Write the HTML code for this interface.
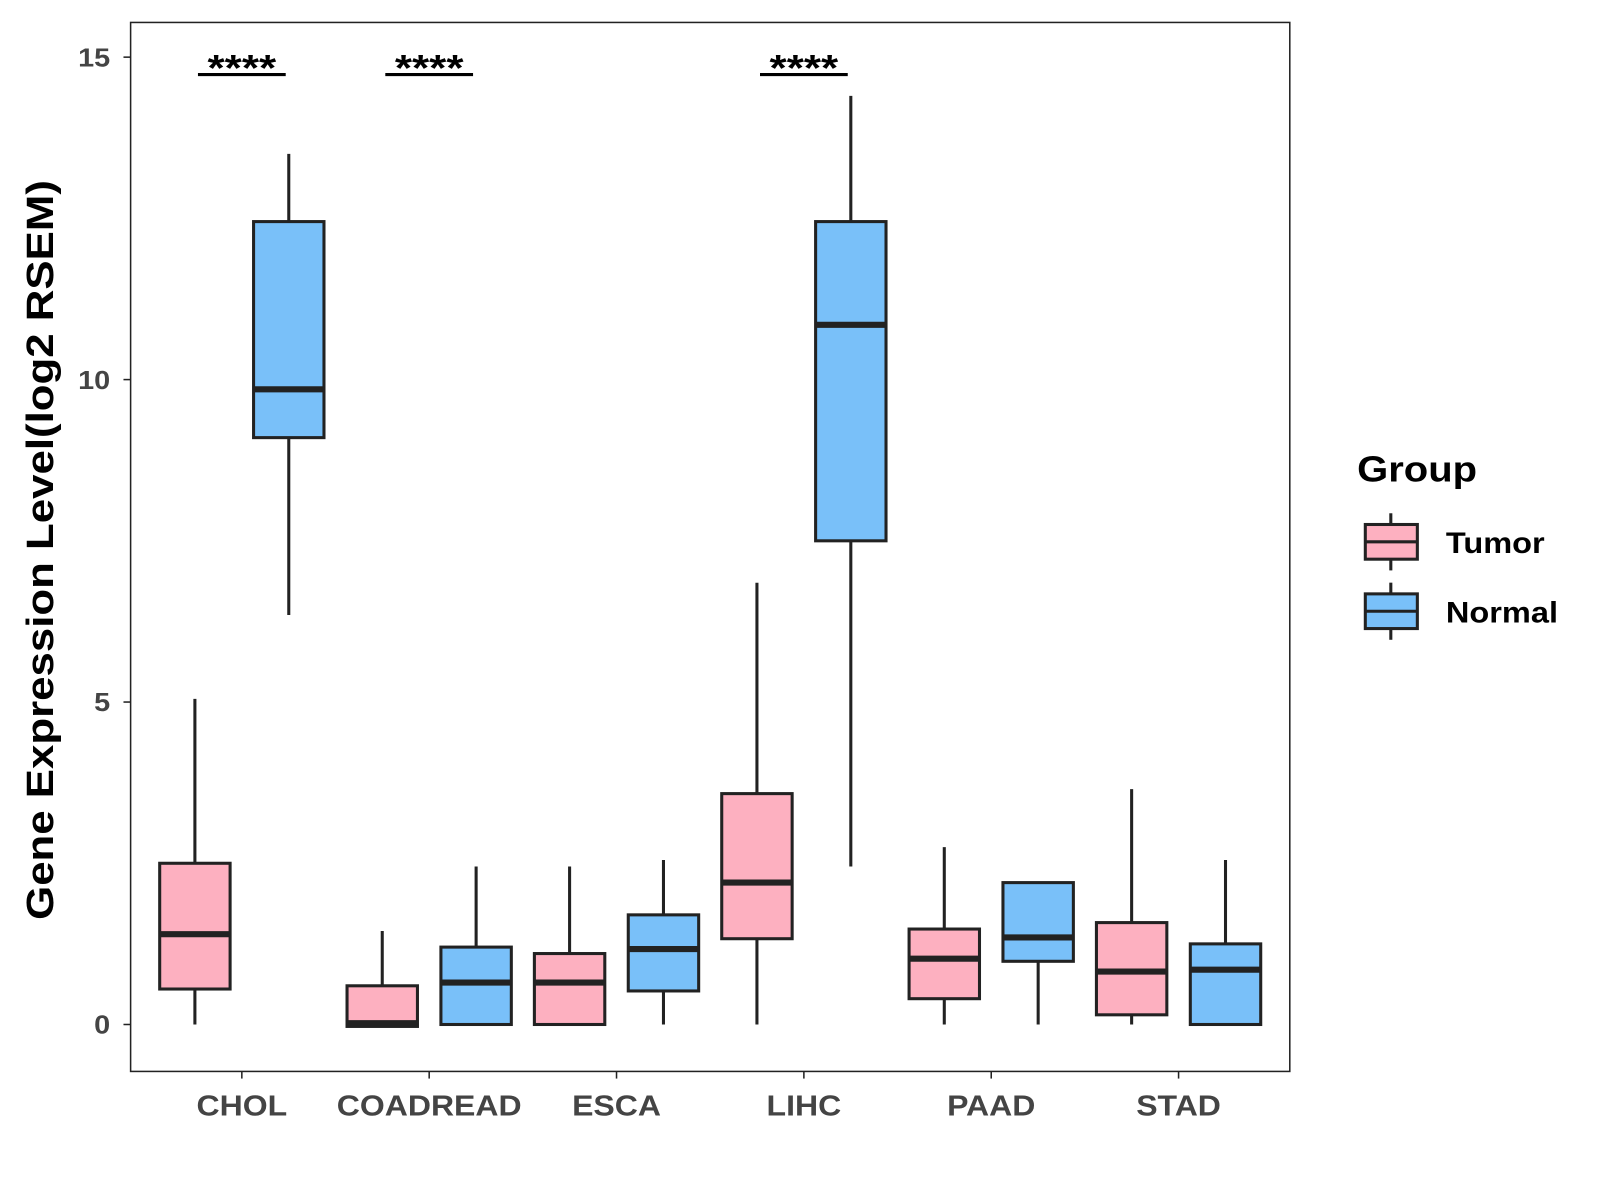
<!DOCTYPE html>
<html><head><meta charset="utf-8"><style>
html,body{margin:0;padding:0;background:#fff;width:1600px;height:1200px;overflow:hidden}
text{font-family:"Liberation Sans",sans-serif;font-weight:bold}
</style></head><body>
<svg id="chart" width="1600" height="1200" viewBox="0 0 1568 1176" xmlns="http://www.w3.org/2000/svg"></svg>
<script>
const categories=["CHOL","COADREAD","ESCA","LIHC","PAAD","STAD"];
const groups=["Tumor","Normal"];
// [whiskerLow, q1, median, q3, whiskerHigh]
const tumorStats=[[0,0.55,1.4,2.5,5.05],[0,-0.03,0.02,0.6,1.45],[0,0,0.65,1.1,2.45],[0,1.33,2.2,3.58,6.85],[0,0.4,1.02,1.48,2.75],[0,0.15,0.82,1.58,3.65]];
const normalStats=[[6.35,9.1,9.85,12.45,13.5],[0,0,0.65,1.2,2.45],[0,0.52,1.17,1.7,2.55],[2.45,7.5,10.85,12.45,14.4],[0,0.98,1.35,2.2,2.2],[0,0,0.85,1.25,2.55]];
const yTicks=[0,5,10,15];
const sigCategories=["CHOL","COADREAD","LIHC"];
const sigLabels=["****","****","****"];
const sigLevel=14.73;

const NS="http://www.w3.org/2000/svg";
const svg=document.getElementById('chart');
const L=128,T=22,R=1264,B=1050;
const y=v=>1004-v*63.2;
const x=i=>237+i*183.6;
const off=46,bw=69;
const colors={Tumor:"#FDB0C0",Normal:"#79C0F9"};
function el(tag,attrs,parent){const e=document.createElementNS(NS,tag);for(const k in attrs)e.setAttribute(k,attrs[k]);(parent||svg).appendChild(e);return e;}
function fit(t,scale){const w=t.getComputedTextLength();t.setAttribute('textLength',w*scale);t.setAttribute('lengthAdjust','spacingAndGlyphs');}
const panel=el('rect',{x:L,y:T,width:R-L,height:B-T,fill:'#fff',stroke:'#222','stroke-width':1.5});


yTicks.forEach(t=>{
  const g=el('g',{});
  
  
  el('line',{x1:L-7,x2:L,y1:y(t),y2:y(t),stroke:'#222','stroke-width':1.5},g);
  const tx=el('text',{x:L-20,y:y(t)+9,'text-anchor':'end','font-size':25,fill:'#444'},g);tx.textContent=t;fit(tx,1.13);
});
categories.forEach((c,i)=>{
  const g=el('g',{});
  
  
  el('line',{x1:x(i),x2:x(i),y1:B,y2:B+7,stroke:'#222','stroke-width':1.5},g);
  const tx=el('text',{x:x(i),y:B+43,'text-anchor':'middle','font-size':28,fill:'#444'},g);tx.textContent=c;fit(tx,1.12);
  [[tumorStats[i],-off,'Tumor'],[normalStats[i],off,'Normal']].forEach(([s,o,gr])=>{
    const bx=el('g',{});
    
    
    const cx=x(i)+o;
    el('line',{x1:cx,x2:cx,y1:y(s[0]),y2:y(s[4]),stroke:'#222','stroke-width':3},bx);
    el('rect',{x:cx-bw/2,y:y(s[3]),width:bw,height:Math.max(0,y(s[1])-y(s[3])),fill:colors[gr],stroke:'#222','stroke-width':3},bx);
    el('line',{x1:cx-bw/2,x2:cx+bw/2,y1:y(s[2]),y2:y(s[2]),stroke:'#222','stroke-width':6},bx);
  });
});
sigCategories.forEach((c,k)=>{
  const i=categories.indexOf(c);
  const g=el('g',{});
  
  
  el('line',{x1:x(i)-43,x2:x(i)+43,y1:y(sigLevel),y2:y(sigLevel),stroke:'#000','stroke-width':3},g);
  const tx=el('text',{x:x(i),y:y(sigLevel)+6,'text-anchor':'middle','font-size':36,fill:'#000'},g);tx.textContent=sigLabels[k];fit(tx,1.2);
});
const yt=el('text',{x:0,y:0,transform:'translate(52,539) rotate(-90)','text-anchor':'middle','font-size':37,fill:'#000'});
yt.textContent='Gene Expression Level(log2 RSEM)';


fit(yt,1.16);
const lg=el('g',{});


const lt=el('text',{x:1330,y:472,'font-size':35,fill:'#000'},lg);lt.textContent='Group';fit(lt,1.12);
groups.forEach((gr,k)=>{
  const e=el('g',{},lg);
  
  
  const cy=531+k*68;
  el('line',{x1:1363,x2:1363,y1:cy-28,y2:cy+28,stroke:'#222','stroke-width':3},e);
  el('rect',{x:1338,y:cy-17,width:51,height:34,fill:colors[gr],stroke:'#222','stroke-width':3},e);
  el('line',{x1:1338,x2:1389,y1:cy,y2:cy,stroke:'#222','stroke-width':3},e);
  const t=el('text',{x:1417,y:cy+11,'font-size':29,fill:'#000'},e);t.textContent=gr;fit(t,1.1);
});
</script>
</body></html>
